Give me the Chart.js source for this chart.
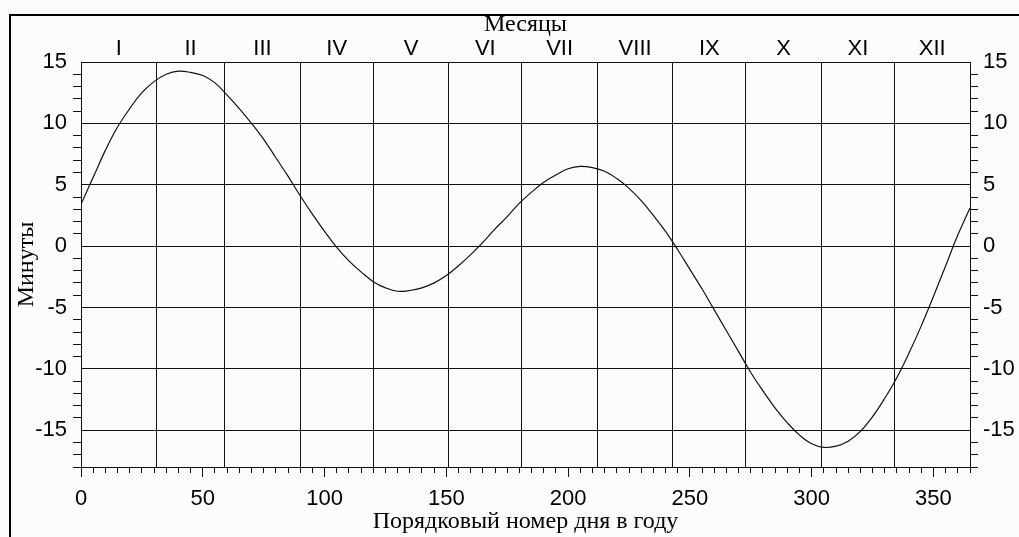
<!DOCTYPE html>
<html lang="ru">
<head>
<meta charset="utf-8">
<title>Уравнение времени</title>
<script src="https://cdn.jsdelivr.net/npm/chart.js@4.4.1/dist/chart.umd.min.js"></script>
<style>
    html, body { margin: 0; padding: 0; background: #fcfcfc; }
    #wrap { position: relative; width: 1019px; height: 537px; overflow: hidden; }
    #frame {
        position: absolute; left: 9px; top: 14px; right: -4px; bottom: -4px;
        border-top: 2px solid #000; border-left: 2px solid #000;
        pointer-events: none;
    }
</style>
</head>
<body>
<div id="wrap">
    <canvas id="chartEot" width="1019" height="537"></canvas>
    <div id="frame"></div>
</div>
<script>
// day of year (0 = 1 Jan) and clock minus sundial, minutes
const days = [
    0, 5, 10, 15, 20, 25, 30, 35, 40, 45, 50, 55, 60, 65, 70, 75, 80, 85, 90,
    95, 100, 105, 110, 115, 120, 125, 130, 135, 140, 145, 150, 155, 160, 165,
    170, 175, 180, 185, 190, 195, 200, 205, 210, 215, 220, 225, 230, 235, 240,
    245, 250, 255, 260, 265, 270, 275, 280, 285, 290, 295, 300, 305, 310, 315,
    320, 325, 330, 335, 340, 345, 350, 355, 360, 365,
];
const minutes = [
    3.4, 5.6, 7.8, 9.7, 11.2, 12.5, 13.4, 14.0, 14.25, 14.15, 13.9, 13.3, 12.3,
    11.2, 10.0, 8.7, 7.2, 5.7, 4.1, 2.6, 1.2, -0.1, -1.2, -2.1, -2.9, -3.4,
    -3.68, -3.62, -3.4, -3.0, -2.4, -1.6, -0.7, 0.3, 1.4, 2.4, 3.5, 4.4, 5.2,
    5.8, 6.3, 6.5, 6.4, 6.1, 5.5, 4.7, 3.7, 2.5, 1.2, -0.3, -1.9, -3.5, -5.2,
    -6.9, -8.6, -10.3, -11.8, -13.2, -14.4, -15.4, -16.1, -16.4, -16.3, -15.9,
    -15.1, -13.9, -12.4, -10.7, -8.7, -6.5, -4.1, -1.6, 0.9, 3.1,
];
const monthEdges = [0, 31, 59, 90, 120, 151, 181, 212, 243, 273, 304, 334, 365];
const monthNames = ["I", "II", "III", "IV", "V", "VI", "VII", "VIII", "IX", "X", "XI", "XII"];
const yTickLabels = [-15, -10, -5, 0, 5, 10, 15];
const xTickLabels = [0, 50, 100, 150, 200, 250, 300, 350];

const lineColor = "#111";
const sansFont = { family: "'Liberation Sans', Arial, sans-serif", size: 22 };
const serifFont = { family: "'Liberation Serif', 'Times New Roman', serif", size: 24 };

// top axis: month borders carry grid lines, month middles carry the labels
const monthBorders = monthEdges.slice(1, -1);
const monthMiddles = monthNames.map((n, i) => (monthEdges[i] + monthEdges[i + 1]) / 2);
const monthTicks = monthBorders.concat(monthMiddles).sort((a, b) => a - b);

function monthLabel(value) {
    const i = monthMiddles.indexOf(value);
    return i >= 0 ? monthNames[i] : "";
}

function yLabel(value) {
    return yTickLabels.includes(value) ? String(value) : "";
}

function isMajorY(ctx) {
    return ctx.tick && yTickLabels.includes(ctx.tick.value);
}

new Chart(document.getElementById("chartEot").getContext("2d"), {
    type: "line",
    data: {
        datasets: [
            {
                data: days.map((d, i) => ({ x: d, y: minutes[i] })),
                borderColor: lineColor,
                borderWidth: 1.2,
                pointRadius: 0,
                fill: false,
                tension: 0.4,
                xAxisID: "x",
                yAxisID: "y",
            },
        ],
    },
    options: {
        responsive: false,
        animation: false,
        devicePixelRatio: 1,
        layout: { padding: { left: 10, top: 10, right: 0, bottom: 1 } },
        plugins: {
            legend: { display: false },
            tooltip: { enabled: false },
        },
        scales: {
            x: {
                type: "linear",
                position: "bottom",
                min: 0,
                max: 365,
                afterFit: (s) => { s.height = 69; },
                ticks: {
                    stepSize: 5,
                    autoSkip: false,
                    maxRotation: 0,
                    padding: 9,
                    color: "#000",
                    font: sansFont,
                    callback: (v) => (xTickLabels.includes(v) ? String(v) : ""),
                },
                grid: {
                    drawOnChartArea: false,
                    tickLength: 10,
                    tickColor: lineColor,
                    tickBorderDash: (ctx) =>
                        ctx.tick && xTickLabels.includes(ctx.tick.value) ? [] : [5, 20],
                },
                border: { display: true, color: lineColor, width: 1 },
                title: {
                    display: true,
                    text: "Порядковый номер дня в году",
                    color: "#000",
                    font: serifFont,
                    padding: { top: 0, bottom: 0 },
                },
            },
            xm: {
                type: "linear",
                position: "top",
                min: 0,
                max: 365,
                afterBuildTicks: (s) => {
                    s.ticks = monthTicks.map((v) => ({ value: v }));
                },
                afterFit: (s) => { s.height = 52; },
                ticks: {
                    autoSkip: false,
                    maxRotation: 0,
                    padding: 0,
                    color: "#000",
                    font: sansFont,
                    callback: (v) => monthLabel(v),
                },
                grid: {
                    drawTicks: false,
                    color: (ctx) =>
                        ctx.tick && monthBorders.includes(ctx.tick.value) ? lineColor : "transparent",
                },
                border: { display: true, color: lineColor, width: 1 },
                title: {
                    display: true,
                    text: "Месяцы",
                    color: "#000",
                    font: serifFont,
                    padding: { top: 0, bottom: 0 },
                },
            },
            y: {
                type: "linear",
                position: "left",
                min: -18,
                max: 15,
                afterFit: (s) => { s.width = 71; },
                ticks: {
                    stepSize: 1,
                    autoSkip: false,
                    padding: 6,
                    color: "#000",
                    font: sansFont,
                    callback: (v) => yLabel(v),
                },
                grid: {
                    tickLength: 8,
                    color: (ctx) => (isMajorY(ctx) ? lineColor : "transparent"),
                    tickColor: (ctx) => (isMajorY(ctx) ? "transparent" : lineColor),
                },
                border: { display: true, color: lineColor, width: 1 },
                title: {
                    display: true,
                    text: "Минуты",
                    color: "#000",
                    font: serifFont,
                    padding: { top: 2, bottom: 0 },
                },
            },
            y2: {
                type: "linear",
                position: "right",
                min: -18,
                max: 15,
                afterFit: (s) => { s.width = 49; },
                ticks: {
                    stepSize: 1,
                    autoSkip: false,
                    padding: 5,
                    color: "#000",
                    font: sansFont,
                    callback: (v) => yLabel(v),
                },
                grid: {
                    drawOnChartArea: false,
                    tickLength: 8,
                    tickColor: (ctx) => (isMajorY(ctx) ? "transparent" : lineColor),
                },
                border: { display: true, color: lineColor, width: 1 },
            },
        },
    },
});
</script>
</body>
</html>
